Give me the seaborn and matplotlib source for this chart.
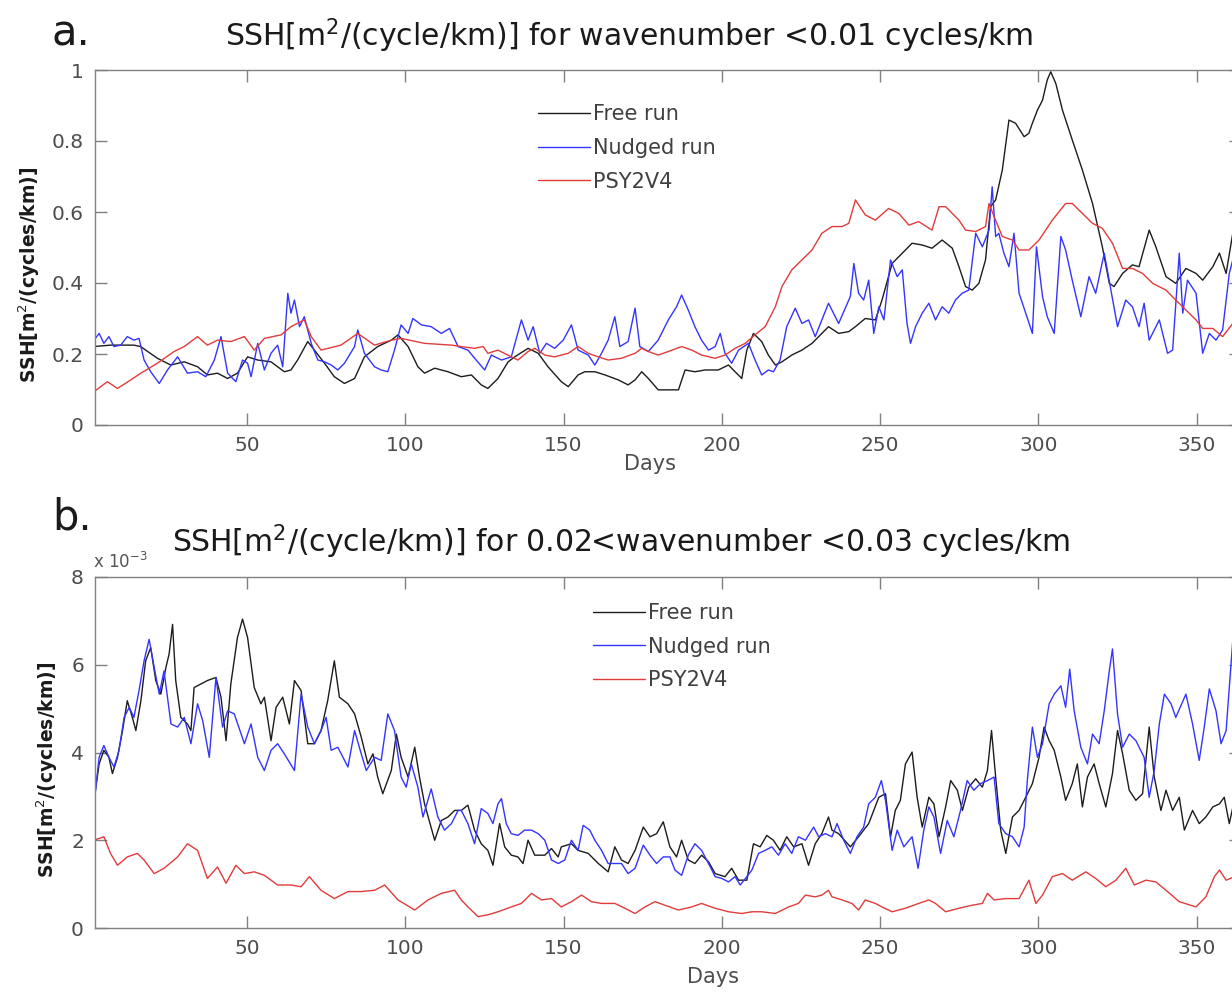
import pandas as pd
import seaborn as sns
import matplotlib
matplotlib.use('Agg')
import matplotlib.pyplot as plt

sns.set_style('ticks')
plt.rcParams['font.family'] = ['DejaVu Sans']

# --- panel a : wavenumber < 0.01 cycles/km, (day, SSH)
a_free = [(1.7, 0.221), (6.9, 0.225), (14.3, 0.225), (16.4, 0.221), (21.7, 0.188), (25.9, 0.169),
          (30.2, 0.178), (34.4, 0.164), (37.5, 0.141), (40.7, 0.146), (43.9, 0.131), (47.0, 0.146),
          (50.2, 0.192), (53.4, 0.183), (57.6, 0.178), (61.8, 0.150), (63.9, 0.155), (66.0, 0.183),
          (69.2, 0.235), (71.3, 0.211), (74.5, 0.174), (77.6, 0.136), (80.8, 0.117), (84.0, 0.131),
          (87.1, 0.192), (91.3, 0.221), (95.6, 0.239), (97.7, 0.254), (100.9, 0.221), (104.0, 0.164),
          (106.1, 0.146), (109.3, 0.160), (113.5, 0.150), (117.7, 0.136), (120.9, 0.141), (124.0, 0.113),
          (126.1, 0.103), (129.3, 0.131), (132.5, 0.178), (134.6, 0.192), (138.8, 0.216), (142.0, 0.202),
          (145.1, 0.164), (149.3, 0.122), (151.5, 0.108), (154.6, 0.141), (156.7, 0.150), (159.9, 0.150),
          (163.1, 0.141), (167.3, 0.127), (170.4, 0.113), (172.6, 0.127), (174.7, 0.150), (176.8, 0.131),
          (179.9, 0.099), (183.1, 0.099), (186.3, 0.099), (188.4, 0.155), (191.5, 0.150), (194.7, 0.155),
          (198.9, 0.155), (202.1, 0.169), (204.2, 0.150), (206.3, 0.131), (207.9, 0.211), (210.0, 0.258),
          (212.6, 0.235), (214.7, 0.197), (216.9, 0.169), (219.0, 0.178), (222.1, 0.197), (225.3, 0.211),
          (228.5, 0.230), (231.6, 0.258), (233.7, 0.277), (236.9, 0.258), (240.1, 0.263), (242.2, 0.277),
          (245.3, 0.300), (248.5, 0.296), (250.6, 0.352), (253.8, 0.455), (257.0, 0.484), (260.1, 0.512),
          (263.3, 0.507), (266.4, 0.498), (269.6, 0.521), (272.8, 0.498), (274.9, 0.446), (277.0, 0.390),
          (279.1, 0.380), (281.2, 0.399), (283.3, 0.465), (284.9, 0.615), (286.5, 0.634), (288.6, 0.718),
          (290.7, 0.859), (292.8, 0.850), (295.5, 0.812), (297.0, 0.822), (298.1, 0.850), (299.7, 0.887),
          (301.3, 0.915), (302.8, 0.972), (303.9, 0.995), (305.5, 0.962), (307.6, 0.887), (310.7, 0.803),
          (313.9, 0.718), (317.1, 0.624), (320.2, 0.502), (322.4, 0.399), (323.9, 0.390), (326.6, 0.427),
          (329.7, 0.451), (331.8, 0.446), (335.0, 0.549), (337.1, 0.502), (340.3, 0.418), (343.4, 0.399),
          (346.6, 0.441), (349.8, 0.427), (351.9, 0.408), (355.1, 0.446), (357.2, 0.484), (359.3, 0.427),
          (361.4, 0.540)]

a_nudged = [(1.7, 0.239), (3.3, 0.258), (4.8, 0.230), (6.4, 0.249), (8.0, 0.221), (10.1, 0.225),
            (12.2, 0.249), (14.3, 0.239), (15.9, 0.244), (17.5, 0.183), (19.6, 0.150), (22.3, 0.117),
            (24.9, 0.155), (28.1, 0.192), (31.2, 0.146), (34.4, 0.150), (37.0, 0.136), (39.7, 0.183),
            (41.8, 0.249), (43.9, 0.146), (46.5, 0.122), (48.6, 0.183), (50.2, 0.174), (51.3, 0.136),
            (53.4, 0.230), (55.5, 0.155), (57.6, 0.202), (59.7, 0.225), (61.3, 0.164), (62.9, 0.371),
            (63.9, 0.315), (65.0, 0.352), (66.6, 0.277), (68.1, 0.305), (70.3, 0.230), (72.4, 0.183),
            (74.5, 0.178), (76.6, 0.169), (78.7, 0.155), (80.8, 0.174), (84.0, 0.221), (85.0, 0.268),
            (87.1, 0.202), (90.3, 0.164), (92.4, 0.155), (94.5, 0.150), (96.6, 0.211), (98.7, 0.282),
            (100.9, 0.258), (102.4, 0.300), (105.1, 0.282), (108.2, 0.277), (111.4, 0.258), (114.0, 0.272),
            (116.7, 0.221), (119.8, 0.211), (122.4, 0.183), (125.1, 0.155), (127.2, 0.197), (130.4, 0.183),
            (133.5, 0.192), (136.7, 0.296), (138.8, 0.239), (140.4, 0.277), (142.5, 0.202), (144.6, 0.230),
            (147.2, 0.216), (149.9, 0.239), (152.5, 0.282), (154.6, 0.211), (157.8, 0.197), (159.9, 0.169),
            (162.0, 0.202), (164.1, 0.239), (166.2, 0.305), (167.8, 0.221), (170.4, 0.235), (172.6, 0.329),
            (174.1, 0.221), (176.8, 0.207), (179.9, 0.239), (183.1, 0.296), (185.7, 0.333), (187.3, 0.366),
            (189.4, 0.324), (191.5, 0.277), (193.6, 0.239), (195.8, 0.211), (197.9, 0.221), (199.5, 0.258),
            (201.0, 0.202), (203.1, 0.174), (205.3, 0.211), (208.4, 0.230), (210.5, 0.183), (212.6, 0.141),
            (214.7, 0.155), (216.3, 0.150), (218.4, 0.183), (220.5, 0.277), (223.2, 0.329), (225.3, 0.286),
            (227.4, 0.296), (229.5, 0.249), (231.6, 0.296), (233.7, 0.343), (236.9, 0.286), (239.0, 0.329),
            (240.6, 0.362), (241.7, 0.455), (243.2, 0.371), (244.8, 0.352), (246.4, 0.408), (248.0, 0.258),
            (249.6, 0.333), (251.2, 0.296), (253.3, 0.465), (255.4, 0.418), (257.0, 0.437), (258.5, 0.286),
            (259.6, 0.230), (261.2, 0.277), (263.3, 0.315), (265.4, 0.343), (267.5, 0.296), (269.6, 0.333),
            (271.7, 0.315), (273.8, 0.352), (275.9, 0.371), (278.0, 0.380), (280.2, 0.540), (282.3, 0.502),
            (284.4, 0.549), (285.4, 0.671), (286.5, 0.531), (287.5, 0.540), (289.1, 0.484), (290.7, 0.446),
            (292.3, 0.540), (293.9, 0.371), (296.0, 0.315), (298.1, 0.258), (299.4, 0.502), (301.3, 0.362),
            (302.8, 0.305), (305.0, 0.258), (307.1, 0.531), (308.6, 0.493), (310.7, 0.408), (313.4, 0.305),
            (316.0, 0.418), (318.1, 0.371), (320.8, 0.484), (322.9, 0.380), (325.0, 0.277), (327.6, 0.352),
            (329.7, 0.333), (331.8, 0.277), (333.4, 0.343), (335.0, 0.239), (338.2, 0.296), (340.8, 0.202),
            (342.4, 0.211), (344.5, 0.484), (345.6, 0.315), (347.1, 0.408), (349.8, 0.371), (351.9, 0.202),
            (354.0, 0.258), (356.1, 0.239), (358.2, 0.268), (360.3, 0.427), (361.4, 0.465)]

a_psy = [(1.7, 0.094), (5.9, 0.122), (9.1, 0.103), (13.3, 0.127), (16.5, 0.146), (21.7, 0.174),
         (27.0, 0.207), (30.2, 0.221), (34.4, 0.249), (37.5, 0.225), (40.7, 0.239), (44.9, 0.235),
         (49.2, 0.249), (52.3, 0.211), (55.5, 0.244), (60.8, 0.254), (63.9, 0.277), (68.1, 0.296),
         (70.3, 0.249), (73.4, 0.211), (79.7, 0.225), (85.0, 0.258), (90.3, 0.225), (95.6, 0.239),
         (98.7, 0.244), (106.1, 0.230), (114.6, 0.225), (117.7, 0.221), (121.9, 0.216), (124.6, 0.221),
         (126.1, 0.202), (129.3, 0.211), (133.5, 0.192), (135.6, 0.183), (138.8, 0.207), (140.9, 0.216),
         (144.1, 0.197), (147.2, 0.192), (151.5, 0.202), (154.6, 0.221), (157.8, 0.202), (161.0, 0.192),
         (164.1, 0.183), (168.3, 0.188), (172.6, 0.202), (174.7, 0.216), (176.8, 0.207), (179.9, 0.197),
         (183.1, 0.207), (187.3, 0.221), (190.5, 0.211), (193.6, 0.197), (197.9, 0.188), (201.0, 0.197),
         (204.2, 0.216), (207.4, 0.230), (210.5, 0.254), (213.7, 0.277), (216.9, 0.333), (219.0, 0.390),
         (222.1, 0.437), (225.3, 0.465), (228.5, 0.493), (231.6, 0.540), (234.8, 0.559), (238.0, 0.559),
         (240.1, 0.568), (242.2, 0.634), (245.3, 0.592), (248.5, 0.577), (252.7, 0.610), (255.9, 0.596),
         (259.1, 0.563), (262.2, 0.573), (266.4, 0.549), (268.6, 0.615), (270.7, 0.615), (274.9, 0.577),
         (277.0, 0.549), (280.2, 0.545), (283.3, 0.559), (284.4, 0.624), (286.0, 0.587), (288.6, 0.531),
         (291.8, 0.521), (293.9, 0.493), (297.0, 0.493), (300.2, 0.521), (304.4, 0.577), (308.6, 0.624),
         (310.7, 0.624), (313.9, 0.596), (317.1, 0.568), (320.2, 0.554), (323.4, 0.512), (326.6, 0.441),
         (329.7, 0.441), (332.9, 0.427), (336.1, 0.399), (340.3, 0.380), (343.4, 0.352), (346.6, 0.324),
         (349.8, 0.296), (351.9, 0.272), (355.1, 0.272), (358.2, 0.249), (361.4, 0.286)]

# --- panel b : 0.02 < wavenumber < 0.03 cycles/km, values in 1e-3
b_free = [(1.7, 2.91), (3.3, 3.74), (4.8, 4.05), (6.4, 3.89), (7.5, 3.52), (9.1, 3.89), (10.7, 4.50),
          (12.2, 5.18), (13.8, 4.80), (14.9, 4.50), (16.5, 5.18), (18.0, 6.09), (19.6, 6.39), (21.2, 5.64),
          (22.8, 5.33), (24.4, 5.94), (25.4, 6.24), (26.5, 6.92), (27.5, 5.64), (29.1, 4.80), (31.2, 4.65),
          (32.3, 4.50), (33.3, 5.48), (35.4, 5.56), (37.5, 5.64), (40.2, 5.71), (41.8, 5.26), (43.4, 4.27),
          (44.9, 5.56), (47.0, 6.62), (48.6, 7.04), (50.2, 6.62), (52.3, 5.48), (54.4, 5.11), (55.5, 5.26),
          (57.6, 4.27), (59.2, 5.03), (61.3, 5.26), (63.4, 4.65), (65.0, 5.64), (67.1, 5.41), (69.2, 4.20),
          (71.3, 4.20), (73.4, 4.50), (75.5, 5.18), (77.6, 6.09), (79.2, 5.26), (81.9, 5.11), (84.0, 4.88),
          (86.1, 4.35), (88.2, 3.74), (89.8, 3.97), (91.3, 3.44), (92.9, 3.06), (95.6, 3.59), (97.2, 4.42),
          (98.7, 3.89), (100.9, 3.44), (103.0, 4.12), (104.5, 3.44), (106.1, 2.83), (109.3, 2.00),
          (111.4, 2.45), (113.5, 2.53), (115.6, 2.68), (117.7, 2.68), (119.8, 2.80), (121.9, 2.23),
          (124.0, 1.92), (126.1, 1.77), (127.7, 1.43), (129.8, 2.38), (131.4, 1.85), (133.5, 1.66),
          (135.6, 1.62), (137.2, 1.47), (138.8, 2.00), (140.9, 1.66), (144.1, 1.66), (146.2, 1.81),
          (148.3, 1.62), (149.3, 1.85), (152.5, 1.92), (154.6, 1.77), (157.8, 1.70), (161.0, 1.47),
          (164.1, 1.28), (166.2, 1.85), (168.3, 1.55), (170.4, 1.47), (172.6, 1.77), (175.2, 2.30),
          (177.3, 2.08), (179.4, 2.15), (181.5, 2.42), (183.6, 1.85), (185.7, 1.62), (187.3, 2.00),
          (189.4, 1.55), (191.5, 1.47), (193.6, 1.66), (195.8, 1.51), (197.9, 1.24), (201.0, 1.17),
          (203.1, 1.36), (205.3, 1.09), (207.9, 1.09), (210.0, 1.92), (212.1, 1.85), (214.2, 2.11),
          (216.3, 2.00), (218.4, 1.77), (220.5, 2.08), (222.7, 1.85), (225.3, 1.92), (227.4, 1.43),
          (229.5, 1.92), (231.6, 2.15), (233.7, 2.53), (234.8, 2.23), (236.9, 2.15), (240.6, 1.85),
          (243.2, 2.08), (246.4, 2.38), (249.6, 2.98), (251.7, 3.06), (253.3, 2.08), (254.8, 2.68),
          (256.4, 2.91), (258.0, 3.74), (260.1, 4.01), (261.7, 2.98), (263.3, 2.30), (265.4, 2.98),
          (267.0, 2.83), (268.6, 2.08), (270.7, 2.76), (272.3, 3.36), (274.4, 3.14), (276.0, 2.68),
          (278.0, 3.21), (280.2, 3.40), (282.3, 3.21), (283.9, 3.59), (285.2, 4.50), (286.5, 3.44),
          (288.1, 2.23), (289.7, 1.70), (291.8, 2.53), (293.9, 2.68), (296.0, 2.98), (298.1, 3.29),
          (300.2, 3.89), (301.8, 4.58), (303.4, 4.27), (305.0, 4.05), (307.1, 3.44), (308.6, 2.91),
          (310.7, 3.29), (312.3, 3.74), (313.9, 2.76), (315.5, 3.44), (317.6, 3.74), (319.2, 3.29),
          (321.3, 2.76), (323.4, 3.52), (325.0, 4.50), (326.6, 3.97), (328.7, 3.14), (330.8, 2.91),
          (332.9, 3.06), (335.0, 4.58), (336.6, 3.44), (338.7, 2.68), (340.3, 3.14), (342.4, 2.68),
          (344.5, 2.98), (346.1, 2.23), (348.7, 2.68), (350.8, 2.38), (352.9, 2.53), (355.1, 2.76),
          (357.2, 2.83), (358.7, 2.98), (360.3, 2.38), (361.9, 2.91)]

b_nudged = [(1.7, 2.83), (3.3, 3.89), (4.8, 4.16), (6.4, 3.89), (8.0, 3.67), (9.6, 4.05), (11.2, 4.80),
            (12.8, 5.03), (14.3, 4.80), (15.9, 5.41), (17.5, 6.09), (19.1, 6.58), (20.7, 5.94), (22.3, 5.33),
            (23.8, 5.86), (26.0, 4.65), (28.1, 4.58), (30.2, 4.80), (32.3, 4.20), (34.4, 5.11), (36.0, 4.73),
            (38.1, 3.89), (40.2, 5.71), (42.3, 4.58), (43.9, 4.95), (46.0, 4.88), (49.2, 4.20), (51.3, 4.65),
            (53.4, 3.89), (55.5, 3.59), (57.6, 4.05), (59.7, 4.20), (61.8, 3.97), (65.0, 3.59), (67.1, 5.33),
            (69.2, 4.58), (71.3, 4.20), (73.4, 4.50), (75.0, 4.80), (76.6, 4.05), (78.7, 4.12), (81.9, 3.67),
            (84.0, 4.50), (86.1, 3.97), (87.7, 3.59), (90.3, 3.89), (92.4, 3.82), (94.5, 4.88), (96.6, 4.50),
            (98.7, 3.44), (100.3, 3.21), (101.9, 3.74), (104.0, 3.21), (105.6, 2.53), (108.2, 3.17),
            (110.3, 2.53), (112.4, 2.23), (114.6, 2.38), (116.7, 2.68), (117.7, 2.68), (119.8, 2.38),
            (121.9, 1.92), (124.0, 2.72), (126.1, 2.61), (127.7, 2.38), (129.3, 2.83), (130.4, 2.95),
            (131.9, 2.38), (133.5, 2.15), (135.6, 2.11), (137.7, 2.23), (139.9, 2.23), (142.0, 2.15),
            (144.1, 2.00), (146.2, 1.55), (148.3, 1.47), (150.4, 1.55), (152.5, 2.00), (154.6, 1.77),
            (156.2, 2.34), (158.3, 2.23), (159.9, 2.00), (162.0, 1.77), (164.1, 1.47), (166.2, 1.47),
            (168.3, 1.47), (170.4, 1.24), (172.6, 1.36), (175.2, 1.89), (177.3, 1.66), (179.4, 1.47),
            (181.5, 1.62), (183.6, 1.62), (185.2, 1.32), (187.3, 1.20), (189.4, 1.66), (191.5, 1.92),
            (193.6, 1.77), (195.8, 1.47), (197.9, 1.17), (200.0, 1.13), (202.1, 1.05), (204.2, 1.17),
            (205.8, 0.98), (207.9, 1.17), (209.5, 1.32), (211.6, 1.70), (213.7, 1.77), (215.8, 1.85),
            (217.9, 1.66), (220.0, 1.92), (222.1, 1.70), (224.2, 2.08), (226.4, 2.00), (229.0, 2.30),
            (230.6, 2.08), (232.7, 2.15), (234.8, 2.08), (236.4, 2.38), (238.5, 2.00), (240.6, 1.70),
            (242.7, 2.08), (244.8, 2.30), (246.4, 2.83), (248.5, 2.98), (250.4, 3.36), (251.7, 2.91),
            (253.8, 1.77), (255.4, 2.23), (257.5, 1.85), (260.1, 2.08), (262.0, 1.36), (263.8, 2.23),
            (265.4, 2.76), (267.0, 2.53), (269.1, 1.70), (271.2, 2.45), (273.3, 2.08), (275.4, 2.68),
            (277.5, 3.36), (279.6, 3.14), (281.7, 3.29), (283.9, 3.36), (286.0, 3.44), (287.5, 2.38),
            (289.7, 2.15), (291.8, 2.08), (293.9, 1.85), (295.5, 2.30), (296.5, 3.36), (298.1, 4.58),
            (299.7, 3.89), (301.3, 4.20), (303.4, 5.11), (305.0, 5.33), (307.1, 5.52), (308.6, 5.03),
            (309.9, 5.90), (311.3, 4.95), (313.4, 4.12), (315.5, 3.74), (317.1, 4.42), (319.2, 4.20),
            (320.8, 4.95), (322.4, 5.86), (323.4, 6.36), (325.0, 4.88), (326.6, 4.12), (328.7, 4.42),
            (330.8, 4.27), (333.4, 3.89), (335.0, 2.98), (336.6, 3.59), (338.2, 4.65), (339.8, 5.33),
            (341.9, 5.11), (343.4, 4.80), (346.6, 5.33), (348.7, 4.65), (350.8, 3.82), (352.4, 4.58),
            (354.0, 5.45), (356.1, 4.95), (357.7, 4.20), (359.3, 4.50), (361.4, 6.55)]

b_psy = [(1.7, 2.00), (4.8, 2.08), (6.9, 1.70), (9.1, 1.43), (12.2, 1.62), (15.4, 1.70), (17.5, 1.55),
         (20.7, 1.24), (23.8, 1.36), (28.1, 1.62), (31.2, 1.92), (34.4, 1.77), (37.5, 1.13), (40.7, 1.39),
         (43.4, 1.02), (46.5, 1.43), (49.2, 1.24), (52.3, 1.28), (55.5, 1.20), (59.7, 0.98), (63.9, 0.98),
         (67.1, 0.94), (69.7, 1.17), (73.4, 0.86), (77.6, 0.67), (81.9, 0.83), (86.1, 0.83), (90.3, 0.86),
         (93.5, 0.98), (97.7, 0.64), (103.0, 0.41), (107.2, 0.64), (111.4, 0.79), (115.6, 0.86),
         (117.7, 0.64), (119.8, 0.48), (123.0, 0.26), (126.1, 0.30), (129.3, 0.37), (133.5, 0.48),
         (136.7, 0.56), (139.9, 0.79), (143.0, 0.64), (146.2, 0.67), (149.3, 0.48), (152.5, 0.60),
         (155.7, 0.75), (158.8, 0.60), (162.0, 0.56), (166.2, 0.56), (169.4, 0.45), (172.6, 0.33),
         (175.7, 0.48), (178.9, 0.60), (182.0, 0.52), (186.3, 0.41), (190.5, 0.48), (193.6, 0.56),
         (197.9, 0.45), (202.1, 0.37), (206.3, 0.33), (209.5, 0.37), (212.6, 0.37), (216.9, 0.33),
         (221.1, 0.48), (224.2, 0.56), (226.4, 0.75), (229.5, 0.71), (231.6, 0.75), (233.7, 0.86),
         (234.8, 0.71), (238.0, 0.64), (241.1, 0.56), (243.2, 0.41), (245.3, 0.64), (248.5, 0.56),
         (250.6, 0.48), (253.8, 0.37), (258.0, 0.45), (262.2, 0.56), (265.4, 0.64), (267.5, 0.56),
         (270.7, 0.37), (274.9, 0.45), (279.1, 0.52), (282.3, 0.56), (283.9, 0.79), (286.0, 0.64),
         (289.7, 0.67), (293.9, 0.67), (297.0, 1.09), (299.2, 0.56), (301.3, 0.75), (304.4, 1.17),
         (307.6, 1.24), (310.7, 1.09), (315.0, 1.28), (318.1, 1.13), (321.3, 0.94), (324.5, 1.09),
         (327.6, 1.36), (330.3, 0.98), (334.0, 1.09), (337.1, 1.05), (340.3, 0.86), (344.5, 0.60),
         (349.8, 0.48), (352.9, 0.71), (355.6, 1.17), (357.2, 1.32), (359.3, 1.09), (361.9, 1.17)]

runs = ['Free run', 'Nudged run', 'PSY2V4']
colors = ['#1c1c1c', '#3434ff', '#e23b3b']
day_ticks = [50, 100, 150, 200, 250, 300, 350]

W, H = 1232, 992
fig = plt.figure(figsize=(W / 100, H / 100), dpi=100)


def px_axes(left, top, right, bottom):
    # axes placed in pixel units of the final image (right edge runs off the canvas)
    return fig.add_axes([left / W, 1 - bottom / H, (right - left) / W, (bottom - top) / H])


def panel(ax, series, ylim, yticks, yticklabels, leg_anchor):
    for pts, name, col in zip(series, runs, colors):
        df = pd.DataFrame(pts, columns=['day', 'ssh'])
        sns.lineplot(data=df, x='day', y='ssh', color=col, lw=1.0, label=name,
                     estimator=None, sort=False, ax=ax)
    ax.set_xlim(2, 364)
    ax.set_ylim(*ylim)
    ax.set_xticks(day_ticks)
    ax.set_yticks(yticks)
    ax.set_yticklabels(yticklabels)
    ax.set_xlabel('')
    ax.set_ylabel('')
    for sp in ax.spines.values():
        sp.set_visible(True)
        sp.set_color('#808080')
        sp.set_linewidth(1.0)
    ax.tick_params(direction='in', length=8.6, width=1.0, color='#808080',
                   labelcolor='#4d4d4d', labelsize=14.5, top=True, right=True, pad=8)
    leg = ax.legend(loc='upper left', bbox_to_anchor=leg_anchor, frameon=False, fontsize=15,
                    handlelength=2.5, handletextpad=0.15, labelspacing=0.66,
                    borderpad=0, borderaxespad=0, labelcolor='#404040')
    for line in leg.get_lines():
        line.set_linewidth(1.0)


ax_a = px_axes(95, 70, 1241, 425)
ax_b = px_axes(95, 577, 1241, 928)

panel(ax_a, [a_free, a_nudged, a_psy], (0, 1), [0, 0.2, 0.4, 0.6, 0.8, 1],
      ['0', '0.2', '0.4', '0.6', '0.8', '1'], (0.3866, 0.904))
panel(ax_b, [b_free, b_nudged, b_psy], (0, 8), [0, 2, 4, 6, 8],
      ['0', '2', '4', '6', '8'], (0.4346, 0.926))

txt = dict(color='#1a1a1a', va='baseline')
fig.text(52 / W, 1 - 45 / H, 'a.', fontsize=30, ha='left', **txt)
fig.text(629 / W, 1 - 46 / H, r'SSH[m$^2$/(cycle/km)] for wavenumber <0.01 cycles/km',
         fontsize=21.5, ha='center', **txt)
fig.text(52 / W, 1 - 529 / H, 'b.', fontsize=30, ha='left', **txt)
fig.text(621 / W, 1 - 552 / H, r'SSH[m$^2$/(cycle/km)] for 0.02<wavenumber <0.03 cycles/km',
         fontsize=21.5, ha='center', **txt)
fig.text(93 / W, 1 - 568 / H, r'x 10$^{-3}$', fontsize=12, ha='left', color='#555555', va='baseline')

fig.text(650 / W, 1 - 470 / H, 'Days', fontsize=15, ha='center', va='baseline', color='#4d4d4d')
fig.text(713 / W, 1 - 983 / H, 'Days', fontsize=15, ha='center', va='baseline', color='#4d4d4d')

ylab = r'SSH[m$^2$/(cycles/km)]'
fig.text(29 / W, 1 - 275 / H, ylab, rotation=90, fontsize=13.5, fontweight='bold',
         ha='center', va='center', color='#1a1a1a')
fig.text(47 / W, 1 - 770 / H, ylab, rotation=90, fontsize=13.5, fontweight='bold',
         ha='center', va='center', color='#1a1a1a')

fig.savefig('out.png', dpi=100)
